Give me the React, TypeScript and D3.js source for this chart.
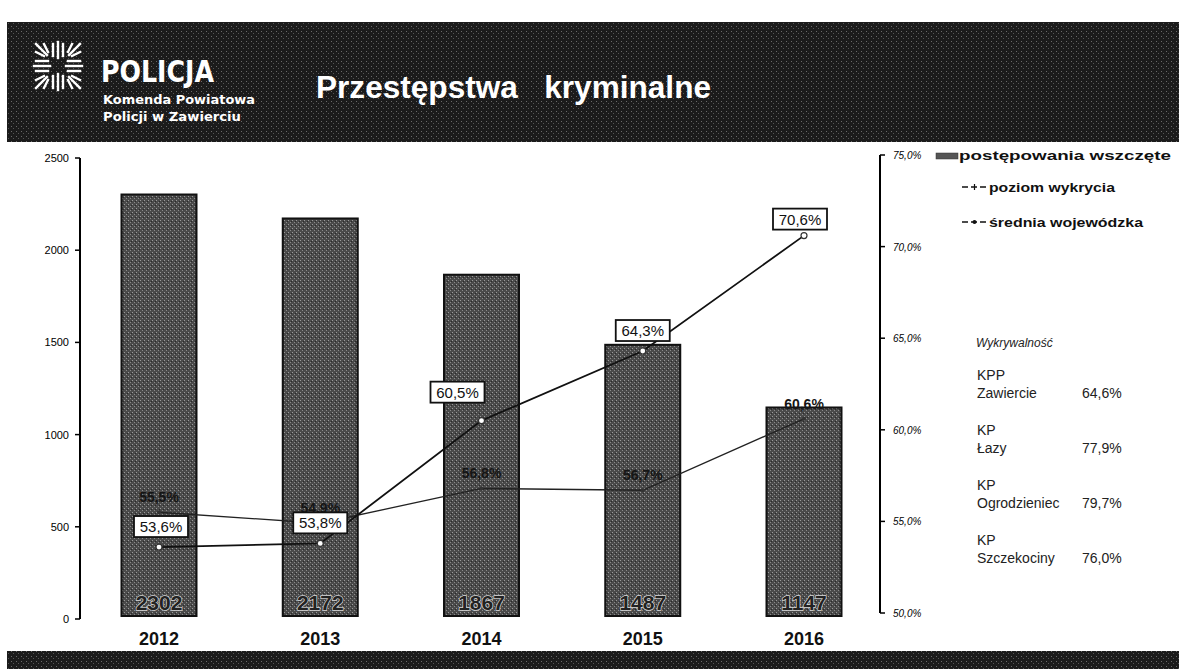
import React from "react";
import * as d3 from "d3";

const years = ["2012", "2013", "2014", "2015", "2016"];
const cases = [2302, 2172, 1867, 1487, 1147];
const detection = [53.6, 53.8, 60.5, 64.3, 70.6];
const regional = [55.5, 54.9, 56.8, 56.7, 60.6];
const leftTicks = [0, 500, 1000, 1500, 2000, 2500];
const rightTicks = [50, 55, 60, 65, 70, 75];
const legendLabels = ["postępowania wszczęte", "poziom wykrycia", "średnia wojewódzka"];
const unitTypes = ["KPP", "KP", "KP", "KP"];
const unitNames = ["Zawiercie", "Łazy", "Ogrodzieniec", "Szczekociny"];
const unitRates = ["64,6%", "77,9%", "79,7%", "76,0%"];

const W = 1179;
const H = 669;
const FONT = "'Liberation Sans', Arial, sans-serif";

const pct = (v: number) => d3.format(".1f")(v).replace(".", ",") + "%";

export default function App() {
  const x = d3.scalePoint<string>().domain(years).range([159, 804]);
  const yL = d3.scaleLinear().domain([0, 2500]).range([619, 158]);
  const yR = d3.scaleLinear().domain([50, 75]).range([613, 155]);
  const barW = 75;

  const line = d3
    .line<number>()
    .x((_, i) => x(years[i]) as number)
    .y((d) => yR(d));

  const boxDx = [2, 0, -24, 0, -4];
  const boxDy = [-10, -10, -18, -10, -6];

  // police emblem: square of short strokes around a cross
  const cx = 58, cy = 66;
  const strokes: [number, number, number, number][] = [];
  // vertical bars top and bottom
  for (const s of [-1, 1]) {
    strokes.push([cx, cy + s * 8, cx, cy + s * 24]);
    strokes.push([cx - 5, cy + s * 10, cx - 5, cy + s * 22]);
    strokes.push([cx + 5, cy + s * 10, cx + 5, cy + s * 22]);
    strokes.push([cx + s * 8, cy, cx + s * 24, cy]);
    strokes.push([cx + s * 10, cy - 5, cx + s * 22, cy - 5]);
    strokes.push([cx + s * 10, cy + 5, cx + s * 22, cy + 5]);
  }
  for (const sx of [-1, 1]) {
    for (const sy of [-1, 1]) {
      strokes.push([cx + sx * 11, cy + sy * 11, cx + sx * 22, cy + sy * 22]);
      strokes.push([cx + sx * 14, cy + sy * 10, cx + sx * 22, cy + sy * 14]);
      strokes.push([cx + sx * 10, cy + sy * 14, cx + sx * 14, cy + sy * 22]);
    }
  }

  return (
    <svg width={W} height={H} style={{ position: "absolute", left: 0, top: 0, background: "#fff" }} fontFamily={FONT}>
      <defs>
        <pattern id="dither" width="4" height="4" patternUnits="userSpaceOnUse">
          <rect width="4" height="4" fill="#4a4a4a" />
          <rect x="0" y="0" width="1" height="1" fill="#9a9a9a" />
          <rect x="2" y="2" width="1" height="1" fill="#8a8a8a" />
          <rect x="3" y="1" width="1" height="1" fill="#2a2a2a" />
        </pattern>
        <pattern id="ditherDark" width="5" height="5" patternUnits="userSpaceOnUse">
          <rect width="5" height="5" fill="#1b1b1b" />
          <rect x="1" y="1" width="1" height="1" fill="#6a6a6a" />
          <rect x="3" y="3" width="1" height="1" fill="#555" />
        </pattern>
      </defs>

      {/* header band */}
      <rect x={7} y={22} width={W - 7} height={120} fill="url(#ditherDark)" />
      <g stroke="#fff" strokeWidth={2.4} strokeLinecap="square">
        {strokes.map((r, i) => (
          <line key={i} x1={r[0]} y1={r[1]} x2={r[2]} y2={r[3]} />
        ))}
      </g>
      <text x={101} y={82} fill="#fff" fontSize={31} fontWeight="bold" fontFamily="'DejaVu Sans', sans-serif" textLength={113} lengthAdjust="spacingAndGlyphs">
        POLICJA
      </text>
      <text x={103} y={104} fill="#fff" fontSize={13} fontWeight="bold" fontFamily="'DejaVu Sans', sans-serif" textLength={152} lengthAdjust="spacingAndGlyphs">
        Komenda Powiatowa
      </text>
      <text x={103} y={121} fill="#fff" fontSize={13} fontWeight="bold" fontFamily="'DejaVu Sans', sans-serif" textLength={138} lengthAdjust="spacingAndGlyphs">
        Policji w Zawierciu
      </text>
      <text x={316} y={98} fill="#fff" fontSize={31} fontWeight="bold" textLength={395} lengthAdjust="spacingAndGlyphs" xmlSpace="preserve">
        Przestępstwa   kryminalne
      </text>

      {/* bottom band */}
      <rect x={7} y={651} width={W - 7} height={18} fill="url(#ditherDark)" />

      {/* bars */}
      {cases.map((v, i) => (
        <rect
          key={years[i]}
          x={(x(years[i]) as number) - barW / 2}
          y={yL(v)}
          width={barW}
          height={yL(0) - yL(v) - 3}
          fill="url(#dither)"
          stroke="#111"
          strokeWidth={2}
        />
      ))}
      {cases.map((v, i) => (
        <text
          key={"c" + i}
          x={x(years[i]) as number}
          y={610}
          textAnchor="middle"
          fontSize={21}
          fontWeight="bold"
          fill="#222"
          stroke="#d8d8d8"
          strokeWidth={1.4}
          style={{ paintOrder: "stroke" }}
        >
          {v}
        </text>
      ))}

      {/* left axis */}
      <line x1={80} x2={80} y1={yL(2500)} y2={yL(0)} stroke="#000" strokeWidth={2} />
      {leftTicks.map((t) => (
        <g key={t}>
          <line x1={75} x2={80} y1={yL(t)} y2={yL(t)} stroke="#000" strokeWidth={1.5} />
          <text x={69} y={yL(t) + 4} textAnchor="end" fontSize={11} fill="#000">
            {t}
          </text>
        </g>
      ))}

      {/* right axis */}
      <line x1={880} x2={880} y1={yR(75)} y2={yR(50)} stroke="#000" strokeWidth={2} />
      {rightTicks.map((t) => (
        <g key={t}>
          <line x1={880} x2={885} y1={yR(t)} y2={yR(t)} stroke="#000" strokeWidth={1.5} />
          <text x={893} y={yR(t) + 4} fontSize={10} fontStyle="italic" fill="#000">
            {pct(t)}
          </text>
        </g>
      ))}

      {/* year labels */}
      {years.map((yr) => (
        <text key={yr} x={x(yr) as number} y={645} textAnchor="middle" fontSize={18} fontWeight="bold" fill="#111">
          {yr}
        </text>
      ))}

      {/* regional average line */}
      <path d={line(regional) || ""} fill="none" stroke="#222" strokeWidth={1.3} />
      {regional.map((v, i) => (
        <g key={"r" + i}>
          <circle cx={x(years[i]) as number} cy={yR(v)} r={2} fill="#333" />
          <text
            x={x(years[i]) as number}
            y={yR(v) - 10}
            textAnchor="middle"
            fontSize={14}
            fontWeight="bold"
            fill="#151515"
          >
            {pct(v)}
          </text>
        </g>
      ))}

      {/* detection line */}
      <path d={line(detection) || ""} fill="none" stroke="#111" strokeWidth={1.8} />
      {detection.map((v, i) => {
        const px = x(years[i]) as number;
        const py = yR(v);
        const bw = 54, bh = 21;
        const bx = px + boxDx[i] - bw / 2;
        const by = py + boxDy[i] - bh;
        return (
          <g key={"d" + i}>
            <circle cx={px} cy={py} r={3} fill="#fff" stroke="#333" strokeWidth={1.2} />
            <rect x={bx} y={by} width={bw} height={bh} fill="#fff" stroke="#111" strokeWidth={1.8} />
            <text x={bx + bw / 2} y={by + 16} textAnchor="middle" fontSize={15} fill="#111">
              {pct(v)}
            </text>
          </g>
        );
      })}

      {/* legend */}
      <g>
        <rect x={936} y={153} width={22} height={6} fill="#555" stroke="#333" strokeWidth={0.5} />
        <text x={959} y={160} fontSize={13} fontWeight="bold" fill="#111" textLength={212} lengthAdjust="spacingAndGlyphs">
          {legendLabels[0]}
        </text>
        <line x1={962} x2={987} y1={187} y2={187} stroke="#111" strokeWidth={1.5} strokeDasharray="6,3" />
        <line x1={974.5} x2={974.5} y1={184} y2={190} stroke="#111" strokeWidth={1.2} />
        <text x={989} y={192} fontSize={13} fontWeight="bold" fill="#111" textLength={126} lengthAdjust="spacingAndGlyphs">
          {legendLabels[1]}
        </text>
        <line x1={962} x2={987} y1={222} y2={222} stroke="#111" strokeWidth={1.5} strokeDasharray="6,3" />
        <circle cx={974.5} cy={222} r={2} fill="#111" />
        <text x={989} y={227} fontSize={13} fontWeight="bold" fill="#111" textLength={154} lengthAdjust="spacingAndGlyphs">
          {legendLabels[2]}
        </text>
      </g>

      {/* detection rates by unit */}
      <text x={976} y={347} fontSize={12} fontStyle="italic" fill="#222">
        Wykrywalność
      </text>
      {unitNames.map((n, i) => {
        const top = 380 + i * 55;
        return (
          <g key={n} fill="#222" fontSize={14}>
            <text x={977} y={top}>{unitTypes[i]}</text>
            <text x={977} y={top + 18}>{n}</text>
            <text x={1082} y={top + 18}>{unitRates[i]}</text>
          </g>
        );
      })}
    </svg>
  );
}
